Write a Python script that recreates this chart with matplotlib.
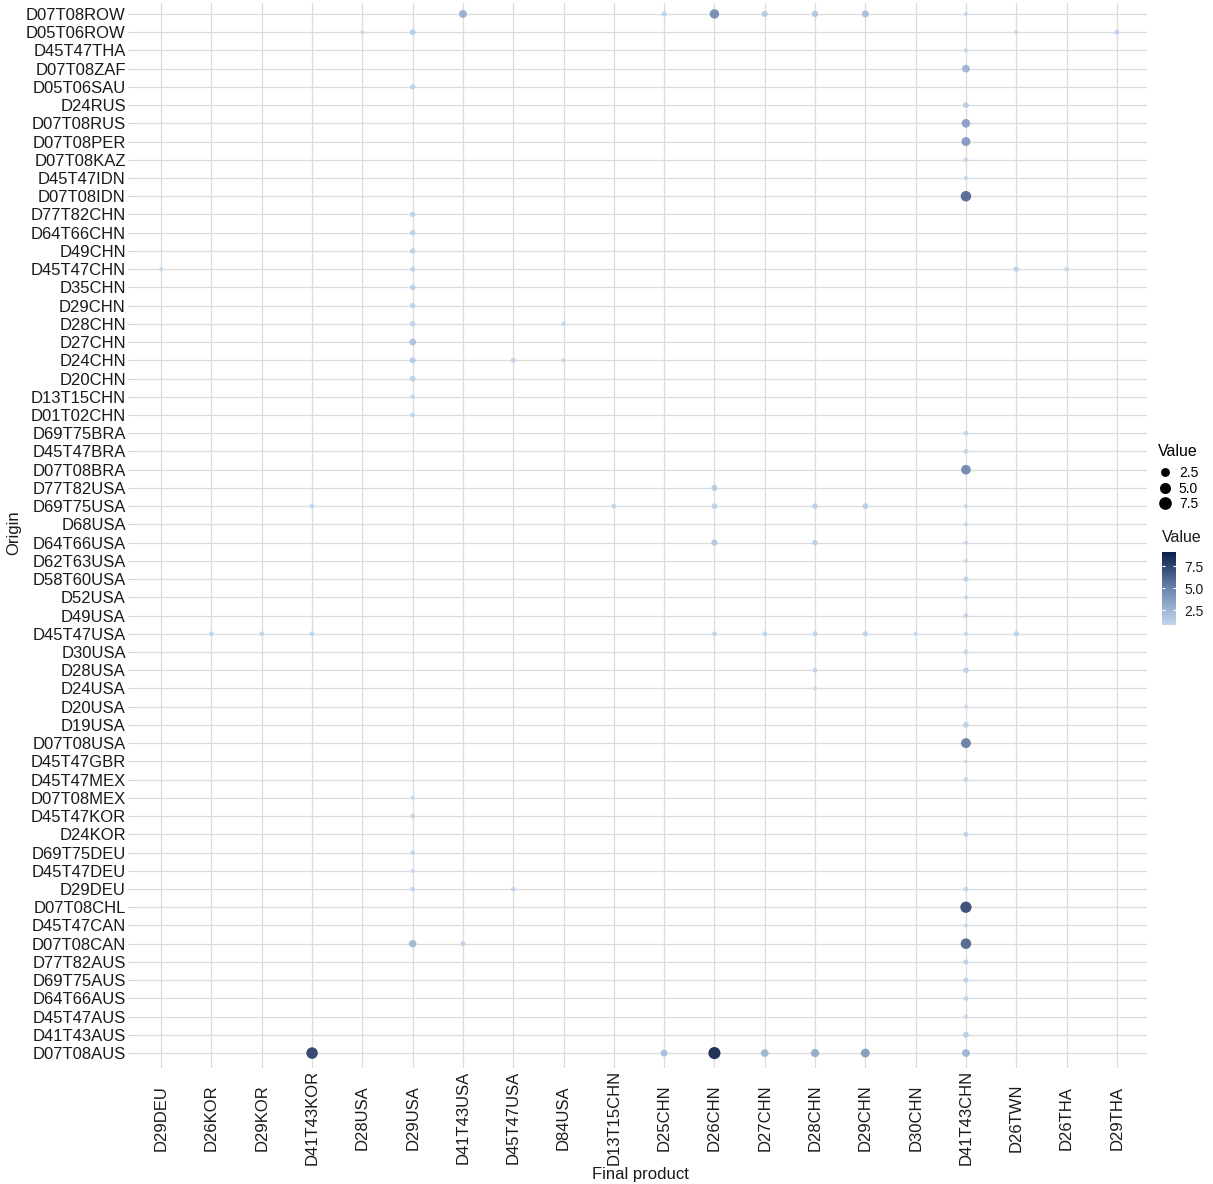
import matplotlib
matplotlib.use("Agg")
import matplotlib.pyplot as plt
import numpy as np
from matplotlib.colors import LinearSegmentedColormap, Normalize
from matplotlib.cm import ScalarMappable
from matplotlib.lines import Line2D

plt.rcParams["font.family"] = ["Liberation Sans", "DejaVu Sans"]

# Category axes (origins listed top to bottom)
origins = [
    "D07T08ROW", "D05T06ROW", "D45T47THA", "D07T08ZAF", "D05T06SAU", "D24RUS",
    "D07T08RUS", "D07T08PER", "D07T08KAZ", "D45T47IDN", "D07T08IDN", "D77T82CHN",
    "D64T66CHN", "D49CHN", "D45T47CHN", "D35CHN", "D29CHN", "D28CHN", "D27CHN",
    "D24CHN", "D20CHN", "D13T15CHN", "D01T02CHN", "D69T75BRA", "D45T47BRA",
    "D07T08BRA", "D77T82USA", "D69T75USA", "D68USA", "D64T66USA", "D62T63USA",
    "D58T60USA", "D52USA", "D49USA", "D45T47USA", "D30USA", "D28USA", "D24USA",
    "D20USA", "D19USA", "D07T08USA", "D45T47GBR", "D45T47MEX", "D07T08MEX",
    "D45T47KOR", "D24KOR", "D69T75DEU", "D45T47DEU", "D29DEU", "D07T08CHL",
    "D45T47CAN", "D07T08CAN", "D77T82AUS", "D69T75AUS", "D64T66AUS", "D45T47AUS",
    "D41T43AUS", "D07T08AUS",
]
products = [
    "D29DEU", "D26KOR", "D29KOR", "D41T43KOR", "D28USA", "D29USA", "D41T43USA",
    "D45T47USA", "D84USA", "D13T15CHN", "D25CHN", "D26CHN", "D27CHN", "D28CHN",
    "D29CHN", "D30CHN", "D41T43CHN", "D26TWN", "D26THA", "D29THA",
]

# Flows: origin, final product, value
flow_origin = (
    ["D07T08ROW"] * 7 + ["D05T06ROW"] * 4 + ["D45T47THA", "D07T08ZAF", "D05T06SAU",
    "D24RUS", "D07T08RUS", "D07T08PER", "D07T08KAZ", "D45T47IDN", "D07T08IDN",
    "D77T82CHN", "D64T66CHN", "D49CHN"] + ["D45T47CHN"] * 4 + ["D35CHN", "D29CHN"]
    + ["D28CHN"] * 2 + ["D27CHN"] + ["D24CHN"] * 3 + ["D20CHN", "D13T15CHN",
    "D01T02CHN", "D69T75BRA", "D45T47BRA", "D07T08BRA", "D77T82USA"]
    + ["D69T75USA"] * 6 + ["D68USA"] + ["D64T66USA"] * 3 + ["D62T63USA", "D58T60USA",
    "D52USA", "D49USA"] + ["D45T47USA"] * 10 + ["D30USA"] + ["D28USA"] * 2
    + ["D24USA", "D20USA", "D19USA", "D07T08USA", "D45T47GBR", "D45T47MEX",
    "D07T08MEX", "D45T47KOR", "D24KOR", "D69T75DEU", "D45T47DEU"] + ["D29DEU"] * 3
    + ["D07T08CHL", "D45T47CAN"] + ["D07T08CAN"] * 3 + ["D77T82AUS", "D69T75AUS",
    "D64T66AUS", "D45T47AUS", "D41T43AUS"] + ["D07T08AUS"] * 7
)
flow_product = (
    ["D41T43USA", "D25CHN", "D26CHN", "D27CHN", "D28CHN", "D29CHN", "D41T43CHN"]
    + ["D28USA", "D29USA", "D26TWN", "D29THA"]
    + ["D41T43CHN", "D41T43CHN", "D29USA", "D41T43CHN", "D41T43CHN", "D41T43CHN",
       "D41T43CHN", "D41T43CHN", "D41T43CHN", "D29USA", "D29USA", "D29USA"]
    + ["D29DEU", "D29USA", "D26TWN", "D26THA"]
    + ["D29USA", "D29USA"]
    + ["D29USA", "D84USA"]
    + ["D29USA"]
    + ["D29USA", "D45T47USA", "D84USA"]
    + ["D29USA", "D29USA", "D29USA", "D41T43CHN", "D41T43CHN", "D41T43CHN", "D26CHN"]
    + ["D41T43KOR", "D13T15CHN", "D26CHN", "D28CHN", "D29CHN", "D41T43CHN"]
    + ["D41T43CHN"]
    + ["D26CHN", "D28CHN", "D41T43CHN"]
    + ["D41T43CHN", "D41T43CHN", "D41T43CHN", "D41T43CHN"]
    + ["D26KOR", "D29KOR", "D41T43KOR", "D26CHN", "D27CHN", "D28CHN", "D29CHN",
       "D30CHN", "D41T43CHN", "D26TWN"]
    + ["D41T43CHN"]
    + ["D28CHN", "D41T43CHN"]
    + ["D28CHN", "D41T43CHN", "D41T43CHN", "D41T43CHN", "D41T43CHN", "D41T43CHN",
       "D29USA", "D29USA", "D41T43CHN", "D29USA", "D29USA"]
    + ["D29USA", "D45T47USA", "D41T43CHN"]
    + ["D41T43CHN", "D41T43CHN"]
    + ["D29USA", "D41T43USA", "D41T43CHN"]
    + ["D41T43CHN", "D41T43CHN", "D41T43CHN", "D41T43CHN", "D41T43CHN"]
    + ["D41T43KOR", "D25CHN", "D26CHN", "D27CHN", "D28CHN", "D29CHN", "D41T43CHN"]
)
flow_value = (
    [3.0, 1.1, 4.8, 1.6, 1.7, 2.2, 0.85]
    + [0.85, 1.4, 0.85, 1.1]
    + [0.9, 2.8, 1.2, 1.4, 3.7, 4.1, 0.95, 0.9, 6.3, 1.2, 1.2, 1.2]
    + [0.85, 1.1, 1.2, 0.9]
    + [1.3, 1.2]
    + [1.2, 0.9]
    + [2.0]
    + [1.5, 1.1, 0.9]
    + [1.3, 0.9, 1.0, 1.0, 1.0, 5.0, 1.5]
    + [0.95, 1.0, 1.3, 1.3, 1.4, 0.85]
    + [0.85]
    + [1.6, 1.3, 0.85]
    + [0.85, 1.2, 0.85, 1.0]
    + [1.0, 1.0, 1.0, 1.0, 1.0, 1.1, 1.1, 0.85, 0.9, 1.2]
    + [1.0]
    + [1.0, 1.3]
    + [0.85, 0.85, 1.3, 5.4, 0.82, 1.0, 0.85, 0.95, 1.1, 1.0, 0.85]
    + [0.95, 0.95, 1.0]
    + [7.6, 0.85]
    + [2.6, 1.1, 6.4]
    + [1.1, 1.1, 1.0, 0.9, 1.4]
    + [8.0, 2.2, 9.1, 2.8, 3.3, 4.0, 2.8]
)

W, H = 1213, 1184
fig = plt.figure(figsize=(W / 100, H / 100), dpi=100)
ax = fig.add_axes([131 / W, (H - 1064) / H, (1147 - 131) / W, (1064 - 3) / H])

vals = np.array(flow_value)
vmin, vmax = vals.min(), vals.max()
norm = Normalize(vmin=vmin, vmax=vmax)
cmap = LinearSegmentedColormap.from_list("blues_navy", ["#C2D8EE", "#6A84AD", "#0A1E4A"])


def diameter_px(v):
    """Area-proportional size scale, in pixels."""
    return 3.6 + 8.5 * np.sqrt((np.asarray(v) - vmin) / (vmax - vmin))


def marker_area(v):
    return (diameter_px(v) * 72 / 100) ** 2


xs = [products.index(p) for p in flow_product]
ys = [origins.index(o) for o in flow_origin]

ax.scatter(xs, ys, s=marker_area(vals), c=vals, cmap=cmap, norm=norm,
           alpha=0.9, linewidths=0, zorder=3)

ax.set_xlim(-0.6, len(products) - 0.4)
ax.set_ylim(len(origins) - 0.4, -0.6)
ax.set_xticks(range(len(products)))
ax.set_xticklabels(products, rotation=90, va="center")
ax.set_yticks(range(len(origins)))
ax.set_yticklabels(origins)
ax.tick_params(axis="both", length=2.2, color="#CFCFCF", width=0.8,
               labelsize=12, labelcolor="#1a1a1a")
ax.tick_params(axis="x", pad=36.5)
ax.tick_params(axis="y", pad=1.5)
ax.grid(True, color="#DCDCDC", linewidth=0.9)
ax.set_axisbelow(True)
for sp in ax.spines.values():
    sp.set_visible(False)

fig.text(640 / W, 1 - 1174 / H, "Final product", ha="center", va="center",
         fontsize=12, color="#1a1a1a")
fig.text(14 / W, 1 - 533 / H, "Origin", rotation=90, ha="center", va="center",
         fontsize=12, color="#1a1a1a")

# Size legend
size_breaks = [2.5, 5.0, 7.5]
handles = [Line2D([], [], marker="o", ls="", color="black",
                  markersize=diameter_px(b) * 0.72) for b in size_breaks]
leg = fig.legend(handles, [f"{b:.1f}" for b in size_breaks], title="Value",
                 loc="upper left", bbox_to_anchor=(1158 / W, 1 - 444 / H),
                 frameon=False, fontsize=10, title_fontsize=11.5,
                 handlelength=1.0, handletextpad=0.5, labelspacing=0.12,
                 borderaxespad=0, borderpad=0)
leg._legend_box.align = "left"
leg._legend_box.sep = 5

# Colour bar
cax = fig.add_axes([1162 / W, 1 - 625 / H, 14 / W, 73 / H])
cb = fig.colorbar(ScalarMappable(norm=norm, cmap=cmap), cax=cax, ticks=size_breaks)
cb.outline.set_visible(False)
cb.ax.set_yticklabels([f"{b:.1f}" for b in size_breaks])
cax.yaxis.set_ticks_position("both")
cax.tick_params(direction="in", color="white", length=2.5, width=0.8,
                labelsize=10, pad=6, labelleft=False, labelright=True,
                labelcolor="#1a1a1a")
cax.set_title("Value", loc="left", fontsize=11.5, pad=7, color="#1a1a1a")

fig.savefig("out.png", dpi=100)
